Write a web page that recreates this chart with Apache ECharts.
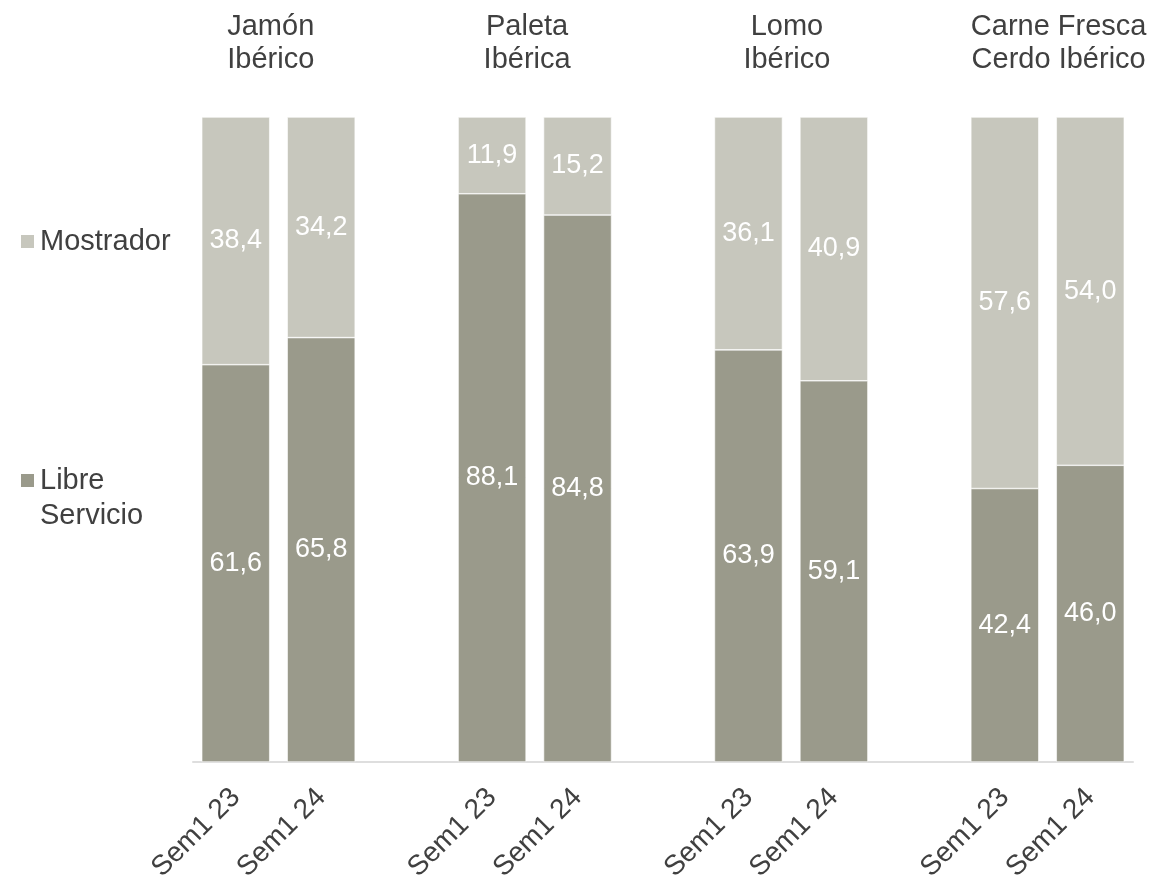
<!DOCTYPE html>
<html>
<head>
<meta charset="utf-8">
<title>Libre Servicio vs Mostrador</title>
<script src="https://cdn.jsdelivr.net/npm/echarts@6/dist/echarts.min.js"></script>
<style>
  html, body { margin: 0; padding: 0; background: #ffffff; }
  #chart { width: 1158px; height: 880px; }
</style>
</head>
<body>
<div id="chart"></div>
<script>
// Product groups and the two periods compared in each
const products = ['Jamón\nIbérico', 'Paleta\nIbérica', 'Lomo\nIbérico', 'Carne Fresca\nCerdo Ibérico'];
const periods = ['Sem1 23', 'Sem1 24'];

// Share (%) per product, in period order
const libreServicio = [61.6, 65.8, 88.1, 84.8, 63.9, 59.1, 42.4, 46.0];
const mostrador     = [38.4, 34.2, 11.9, 15.2, 36.1, 40.9, 57.6, 54.0];

const FONT = 'Liberation Sans, Arial, sans-serif';
const TEXT = '#404040';
const COLOR_MOSTRADOR = '#c7c7bd';
const COLOR_LIBRE = '#9a9a8b';

// Horizontal nudge (in category slots) of each group heading
const headingShift = [-0.09, -0.09, -0.05, 0.13];

// Category slots: two bars per product with an empty slot between groups
const categories = [];
const libreData = [];
const mostradorData = [];
const headingPos = [];
products.forEach((p, gi) => {
  headingPos.push(categories.length + 1 + headingShift[gi]);
  periods.forEach((per, pi) => {
    categories.push(per);
    libreData.push(libreServicio[gi * periods.length + pi]);
    mostradorData.push(mostrador[gi * periods.length + pi]);
  });
  if (gi < products.length - 1) {
    categories.push('');
    libreData.push('-');
    mostradorData.push('-');
  }
});

const fmt = v => Number(v).toFixed(1).replace('.', ',');

const barLabel = {
  show: true,
  position: 'inside',
  color: '#ffffff',
  fontSize: 27,
  fontFamily: FONT,
  formatter: p => fmt(p.value)
};

const chart = echarts.init(document.getElementById('chart'), null, { renderer: 'canvas' });

chart.setOption({
  backgroundColor: '#ffffff',
  animation: false,
  textStyle: { fontFamily: FONT },
  grid: {
    left: 193, right: 25, top: 117, bottom: 118,
    containLabel: false,
    outerBoundsMode: 'none'
  },
  legend: [
    {
      data: ['Mostrador'],
      orient: 'vertical',
      left: 19,
      top: 227,
      padding: 0,
      itemWidth: 15,
      itemHeight: 15,
      icon: 'rect',
      selectedMode: false,
      textStyle: { fontSize: 29, color: TEXT, fontFamily: FONT }
    },
    {
      data: ['Libre Servicio'],
      orient: 'vertical',
      left: 19,
      top: 428,
      padding: 0,
      itemWidth: 15,
      itemHeight: 15,
      icon: 'rect',
      selectedMode: false,
      // blank first line keeps "Libre" level with the swatch
      formatter: name => ' \n' + name.replace(' ', '\n'),
      textStyle: { fontSize: 29, color: TEXT, fontFamily: FONT, lineHeight: 35 }
    }
  ],
  xAxis: [
    {
      type: 'category',
      data: categories,
      position: 'bottom',
      axisLine: { show: true, lineStyle: { color: '#dedede', width: 2 } },
      axisTick: { show: false },
      axisLabel: {
        interval: 0,
        rotate: 45,
        margin: 31,
        fontSize: 28,
        color: TEXT,
        fontFamily: FONT
      }
    },
    {
      type: 'value',
      position: 'top',
      min: 0,
      max: categories.length,
      axisLine: { show: false },
      axisTick: { show: false },
      splitLine: { show: false },
      axisLabel: {
        customValues: headingPos,
        margin: 41,
        fontSize: 29,
        lineHeight: 33,
        color: TEXT,
        fontFamily: FONT,
        align: 'center',
        formatter: v => {
          const i = headingPos.findIndex(h => Math.abs(h - v) < 1e-6);
          return i >= 0 ? products[i] : '';
        }
      }
    }
  ],
  yAxis: {
    type: 'value',
    min: 0,
    max: 100,
    show: false
  },
  series: [
    {
      name: 'Libre Servicio',
      type: 'bar',
      stack: 'share',
      barWidth: 68,
      xAxisIndex: 0,
      itemStyle: { color: COLOR_LIBRE, borderColor: '#ffffff', borderWidth: 0.6 },
      label: barLabel,
      data: libreData
    },
    {
      name: 'Mostrador',
      type: 'bar',
      stack: 'share',
      barWidth: 68,
      xAxisIndex: 0,
      itemStyle: { color: COLOR_MOSTRADOR, borderColor: '#ffffff', borderWidth: 0.6 },
      label: barLabel,
      data: mostradorData
    }
  ]
});
</script>
</body>
</html>
